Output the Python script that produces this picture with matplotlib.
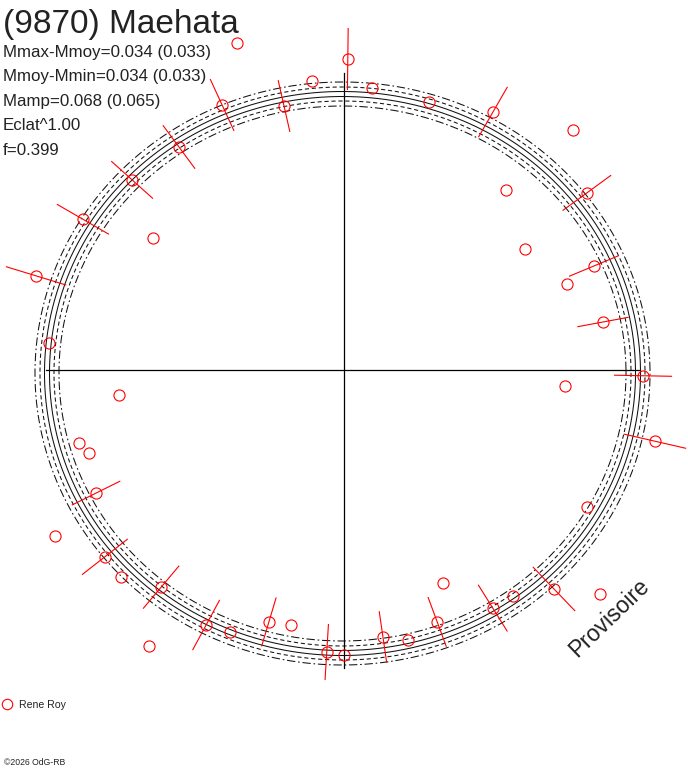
import numpy as np
import matplotlib
matplotlib.use("Agg")
import matplotlib.pyplot as plt

plt.rcParams['font.family'] = ['Liberation Sans', 'DejaVu Sans']
plt.rcParams['lines.scale_dashes'] = False

# observations : phase angle (deg), radius, radial error (0 = no bar)
angle_deg = [108.1, 89.3, 96.3, 84.3, 102.8, 72.4, 114.7, 60.0, 126.5, 46.3,
             138.1, 36.1, 48.0, 150.0, 145.4, 33.8, 22.6, 21.1, 163.0, 10.5,
             174.8, 358.9, 355.9, 186.3, 347.1, 195.4, 198.0, 206.4, 330.6, 209.9,
             218.0, 222.9, 229.9, 294.9, 313.8, 318.8, 306.9, 302.0, 241.6, 246.5,
             253.4, 258.3, 266.5, 270.0, 278.3, 283.3, 290.3, 234.8]
radius = [344.1, 311.0, 290.8, 283.4, 270.7, 281.2, 291.7, 297.9, 277.4, 331.7,
          284.7, 300.6, 242.2, 301.5, 232.2, 217.7, 270.8, 239.0, 322.0, 263.4,
          296.2, 299.1, 221.6, 226.4, 319.0, 274.9, 268.2, 276.8, 279.0, 333.3,
          303.5, 304.3, 283.9, 234.9, 303.4, 340.2, 282.0, 280.8, 289.9, 285.7,
          262.9, 260.4, 282.5, 285.0, 269.8, 277.5, 268.6, 337.9]
err = [0, 30.5, 0, 0, 26, 0, 28, 28.5, 26.5, 0,
       27.5, 29.5, 0, 29.5, 0, 0, 26.5, 0, 31, 25.5,
       0, 28.5, 0, 0, 31.5, 0, 0, 26.5, 0, 0,
       28.5, 0, 27.5, 0, 30, 0, 0, 27, 28, 0,
       25, 0, 27.5, 0, 25.5, 0, 26, 0]

# fourier fit of the polar curve : R0, cos1, sin1, cos2
fit_r0 = 287.5
fit_c1 = -1.5
fit_s1 = -3.5
fit_c2 = 8.0

# envelope curves (offset from fit) and their line styles
env_offsets = [-12, -7, -2.5, 2.5, 7, 12]
env_styles = [(0, (6, 2, 1.2, 2)), (0, (3, 2)), '-', '-', (0, (3, 2)), (0, (6, 2, 1.2, 2))]

title = "(9870) Maehata"
stats = ["Mmax-Mmoy=0.034 (0.033)", "Mmoy-Mmin=0.034 (0.033)",
         "Mamp=0.068 (0.065)", "Eclat^1.00", "f=0.399"]
observer = "Rene Roy"

W, H = 688, 768
fig = plt.figure(figsize=(W / 100, H / 100), dpi=100)
ax = fig.add_axes([0, 0, 1, 1])
ax.set_xlim(-344, W - 344)
ax.set_ylim(-(H - 370), 370)
ax.axis('off')

# axes cross
ax.plot([-298, 296], [0, 0], color='black', lw=0.9)
ax.plot([0, 0], [-298, 297], color='black', lw=0.9)

# fitted curve + envelopes
t = np.linspace(0, 2 * np.pi, 721)
base = fit_r0 + fit_c1 * np.cos(t) + fit_s1 * np.sin(t) + fit_c2 * np.cos(2 * t)
for off, ls in zip(env_offsets, env_styles):
    r = base + off
    ax.plot(r * np.cos(t), r * np.sin(t), color='#111111', lw=0.75, linestyle=ls)

# observations with radial error bars
th = np.radians(angle_deg)
rr = np.array(radius)
ee = np.array(err)
for a, r, e in zip(th, rr, ee):
    if e > 0:
        ax.plot([(r - e) * np.cos(a), (r + e) * np.cos(a)],
                [(r - e) * np.sin(a), (r + e) * np.sin(a)], color='red', lw=0.8)
ax.plot(rr * np.cos(th), rr * np.sin(th), 'o', ms=8, mfc='none', mec='red', mew=0.8)

# texts
def fx(x):
    return x / W

def fy(y):
    return 1 - y / H

fig.text(fx(3), fy(33), title, fontsize=24, color='#222222', va='baseline')
for i, s in enumerate(stats):
    fig.text(fx(3), fy(57 + 24.5 * i), s, fontsize=12.2, color='#222222', va='baseline')

fig.text(fx(609), fy(618), "Provisoire", fontsize=16.5, color='#222222', rotation=44,
         ha='center', va='center', rotation_mode='anchor')

fig.lines.append(plt.Line2D([fx(7)], [fy(704)], transform=fig.transFigure, marker='o',
                            ms=7.5, mfc='none', mec='red', mew=0.8))
fig.text(fx(19), fy(708), observer, fontsize=7.6, color='#222222', va='baseline')
fig.text(fx(4), fy(765), "\u00a92026 OdG-RB", fontsize=6.2, color='#222222', va='baseline')

fig.savefig("out.png", dpi=100)
